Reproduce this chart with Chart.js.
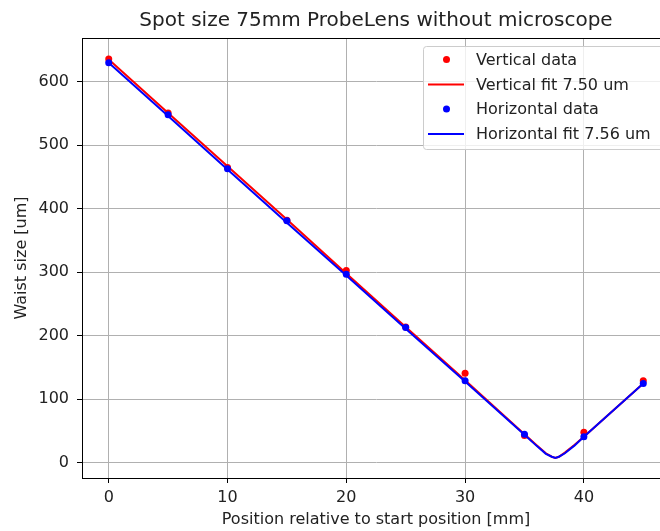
<!DOCTYPE html>
<html>
<head>
<meta charset="utf-8">
<script src="https://cdn.jsdelivr.net/npm/chart.js@4/dist/chart.umd.min.js"></script>
<style>
  html, body { margin: 0; padding: 0; background: #fff; overflow: hidden; }
  #wrap { position: absolute; left: 0; top: 0; width: 700px; height: 531px; }
</style>
</head>
<body>
<div id="wrap"><canvas id="chart" width="700" height="531"></canvas></div>
<script>
'use strict';

// Measured points (mm, um)
var positions = [0, 5, 10, 15, 20, 25, 30, 35, 40, 45];
var verticalData = [636, 551, 465, 382, 303, 214, 141, 43, 48, 129];
var horizontalData = [630, 548, 463, 381, 297, 213, 129, 45, 41, 125];

// Fit curves
var fitPositions = [0, 5, 10, 15, 20, 25, 30, 35, 36, 36.8, 37.3, 37.6, 37.9, 38.4, 39.2, 40, 45];
var verticalFit = [635, 551, 467, 383, 298, 214, 130, 45, 28, 15, 9.5, 7.5, 9.5, 16, 28, 41, 125];
var horizontalFit = [630, 546, 462, 378, 295, 211, 128, 44, 27, 14, 9.5, 7.6, 9.5, 15, 27, 41, 125];

var xTicks = [0, 10, 20, 30, 40];
var yTicks = [0, 100, 200, 300, 400, 500, 600];

var titleText = 'Spot size 75mm ProbeLens without microscope';
var legendLabels = ['Vertical data', 'Vertical fit 7.50 um', 'Horizontal data', 'Horizontal fit 7.56 um'];

var FONT = 'DejaVu Sans';

function pts(xs, ys) {
  return xs.map(function(x, i) { return { x: x, y: ys[i] }; });
}

// title over the plot, frame, and legend inside the plot
var framePlugin = {
  id: 'frame',
  afterDraw: function(chart) {
    var ctx = chart.ctx, a = chart.chartArea;
    ctx.save();
    ctx.fillStyle = '#222';
    ctx.font = '20px "' + FONT + '"';
    ctx.textAlign = 'center';
    ctx.textBaseline = 'middle';
    ctx.fillText(titleText, (a.left + a.right) / 2, 21);

    ctx.strokeStyle = '#000';
    ctx.lineWidth = 1;
    ctx.strokeRect(Math.round(a.left) + 0.5, Math.round(a.top) + 0.5,
      Math.round(a.right - a.left), Math.round(a.bottom - a.top));

    // legend box
    var bx = 423.5, by = 46.5, bw = 246, bh = 103, r = 3;
    ctx.beginPath();
    ctx.moveTo(bx + r, by);
    ctx.lineTo(bx + bw - r, by);
    ctx.arcTo(bx + bw, by, bx + bw, by + r, r);
    ctx.lineTo(bx + bw, by + bh - r);
    ctx.arcTo(bx + bw, by + bh, bx + bw - r, by + bh, r);
    ctx.lineTo(bx + r, by + bh);
    ctx.arcTo(bx, by + bh, bx, by + bh - r, r);
    ctx.lineTo(bx, by + r);
    ctx.arcTo(bx, by, bx + r, by, r);
    ctx.closePath();
    ctx.fillStyle = 'rgba(255,255,255,0.8)';
    ctx.fill();
    ctx.strokeStyle = '#cccccc';
    ctx.stroke();

    var colors = ['#ff0000', '#ff0000', '#0000ff', '#0000ff'];
    var rowY = [59.5, 84.5, 109, 134];
    ctx.font = '16px "' + FONT + '"';
    ctx.textBaseline = 'middle';
    ctx.textAlign = 'left';
    legendLabels.forEach(function(lbl, i) {
      var y = rowY[i];
      if (i % 2 === 0) {
        ctx.beginPath();
        ctx.arc(446.5, y, 3.5, 0, Math.PI * 2);
        ctx.fillStyle = colors[i];
        ctx.fill();
      } else {
        ctx.beginPath();
        ctx.moveTo(428, y);
        ctx.lineTo(464, y);
        ctx.strokeStyle = colors[i];
        ctx.lineWidth = 2;
        ctx.stroke();
      }
      ctx.fillStyle = '#222';
      ctx.fillText(lbl, 476, y + 1);
    });
    ctx.restore();
  }
};

var ctx = document.getElementById('chart');
new Chart(ctx, {
  type: 'scatter',
  data: {
    datasets: [
      { label: legendLabels[3], data: pts(fitPositions, horizontalFit), showLine: true,
        borderColor: '#0000ff', borderWidth: 2, pointRadius: 0, fill: false, order: 0 },
      { label: legendLabels[2], data: pts(positions, horizontalData),
        backgroundColor: '#0000ff', borderWidth: 0, pointRadius: 3.5, order: 1 },
      { label: legendLabels[1], data: pts(fitPositions, verticalFit), showLine: true,
        borderColor: '#ff0000', borderWidth: 2, pointRadius: 0, fill: false, order: 2 },
      { label: legendLabels[0], data: pts(positions, verticalData),
        backgroundColor: '#ff0000', borderWidth: 0, pointRadius: 3.5, order: 3 }
    ]
  },
  options: {
    responsive: false,
    animation: false,
    layout: { padding: { left: 0, right: 30, top: 38, bottom: 0 } },
    plugins: {
      legend: { display: false },
      tooltip: { enabled: false },
      title: { display: false }
    },
    scales: {
      x: {
        type: 'linear', min: -2.25, max: 47.25,
        afterBuildTicks: function(s) { s.ticks = xTicks.map(function(v) { return { value: v }; }); },
        afterFit: function(s) { s.height = 53; },
        grid: { color: '#b0b0b0', lineWidth: 1, tickLength: 5, tickColor: '#000' },
        border: { color: '#000', width: 1 },
        ticks: { color: '#222', padding: 5, maxRotation: 0, font: { family: FONT, size: 16 } },
        title: { display: true, text: 'Position relative to start position [mm]', color: '#222',
          font: { family: FONT, size: 16 }, padding: { top: 0, bottom: 2 } }
      },
      y: {
        type: 'linear', min: -24, max: 669,
        afterBuildTicks: function(s) { s.ticks = yTicks.map(function(v) { return { value: v }; }); },
        afterFit: function(s) { s.width = 82; },
        grid: { color: '#b0b0b0', lineWidth: 1, tickLength: 5, tickColor: '#000' },
        border: { color: '#000', width: 1 },
        ticks: { color: '#222', padding: 8, font: { family: FONT, size: 16 } },
        title: { display: true, text: 'Waist size [um]', color: '#222',
          font: { family: FONT, size: 16 }, padding: { top: 12, bottom: 0 } }
      }
    }
  },
  plugins: [framePlugin]
});
</script>
</body>
</html>
